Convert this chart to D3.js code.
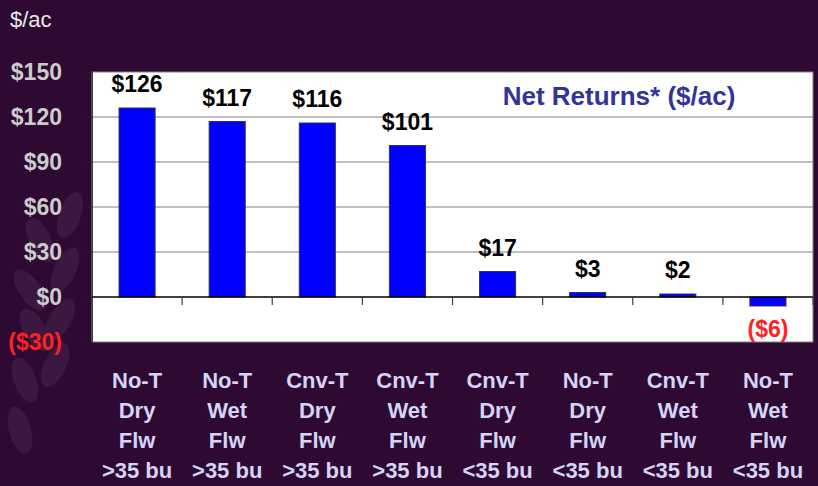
<!DOCTYPE html>
<html>
<head>
<meta charset="utf-8">
<script src="https://cdn.jsdelivr.net/npm/d3@7"></script>
<style>
  html, body { margin: 0; padding: 0; background: #2e0a32; }
  svg { display: block; font-family: "Liberation Sans", Arial, sans-serif; }
</style>
</head>
<body>
<svg id="chart" width="818" height="486"></svg>
<script>
// chart data
const categories = ['No-T|Dry|Flw|>35 bu', 'No-T|Wet|Flw|>35 bu', 'Cnv-T|Dry|Flw|>35 bu', 'Cnv-T|Wet|Flw|>35 bu',
  'Cnv-T|Dry|Flw|<35 bu', 'No-T|Dry|Flw|<35 bu', 'Cnv-T|Wet|Flw|<35 bu', 'No-T|Wet|Flw|<35 bu'];
const values = [126, 117, 116, 101, 17, 3, 2, -6];
const yTicks = [-30, 0, 30, 60, 90, 120, 150];
const title = 'Net Returns* ($/ac)';

const fmt = v => v < 0 ? '($' + Math.abs(v) + ')' : '$' + v;

const svg = d3.select('#chart');
const margin = {top: 72, right: 5, bottom: 144, left: 92};
const width = 818, height = 486;
const w = width - margin.left - margin.right;
const h = height - margin.top - margin.bottom;

// faint wheat-like decoration on the left
const deco = svg.append('g').attr('opacity', 0.07).attr('fill', '#e0c8e8');
[[40,240,-25],[70,215,20],[30,290,-35],[65,270,25],[35,330,-30],[60,320,30],[25,380,-20],[55,365,25],[20,430,-15]].forEach(p => {
  deco.append('ellipse').attr('cx', p[0]).attr('cy', p[1]).attr('rx', 11).attr('ry', 24)
    .attr('transform', `rotate(${p[2]},${p[0]},${p[1]})`);
});

const g = svg.append('g').attr('transform', `translate(${margin.left},${margin.top})`);

const x = d3.scaleBand().domain(categories).range([0, w]).paddingInner(0.6).paddingOuter(0.3);
const y = d3.scaleLinear().domain([-30, 150]).range([h, 0]);

// plot background
g.append('rect').attr('x', 0).attr('y', 0).attr('width', w).attr('height', h)
  .attr('fill', '#ffffff').attr('stroke', '#808080').attr('stroke-width', 1);

// gridlines
g.selectAll('line.grid').data(yTicks.filter(t => t > 0 && t < 150)).join('line')
  .attr('class', 'grid')
  .attr('x1', 0).attr('x2', w)
  .attr('y1', d => y(d)).attr('y2', d => y(d))
  .attr('stroke', '#808080').attr('stroke-width', 1.2);

// left axis
const yAxis = g.append('g')
  .call(d3.axisLeft(y).tickValues(yTicks).tickSize(8).tickFormat(fmt));
yAxis.select('.domain').attr('stroke', '#404040');
yAxis.selectAll('.tick line').attr('stroke', '#202020');
yAxis.selectAll('.tick text')
  .attr('x', -30)
  .attr('font-size', 23).attr('font-weight', 'bold')
  .attr('font-family', '"Liberation Sans", Arial, sans-serif')
  .attr('fill', d => d < 0 ? '#ff2020' : '#cccccc');

// bars
g.selectAll('rect.bar').data(values).join('rect')
  .attr('class', 'bar')
  .attr('x', (d, i) => x(categories[i]))
  .attr('width', x.bandwidth())
  .attr('y', d => y(Math.max(0, d)))
  .attr('height', d => Math.abs(y(d) - y(0)))
  .attr('fill', '#0000ff').attr('stroke', '#303050').attr('stroke-width', 1);

// zero line with category ticks
g.append('line').attr('x1', 0).attr('x2', w).attr('y1', y(0)).attr('y2', y(0))
  .attr('stroke', '#000').attr('stroke-width', 1.3);
g.selectAll('line.xtick').data(d3.range(categories.length + 1)).join('line')
  .attr('class', 'xtick')
  .attr('x1', i => i * w / categories.length).attr('x2', i => i * w / categories.length)
  .attr('y1', y(0)).attr('y2', y(0) + 8)
  .attr('stroke', '#404040').attr('stroke-width', 1.2);

// value labels
g.selectAll('text.val').data(values).join('text')
  .attr('class', 'val')
  .attr('x', (d, i) => x(categories[i]) + x.bandwidth() / 2)
  .attr('y', d => d < 0 ? y(d) + 31 : y(d) - 16)
  .attr('text-anchor', 'middle')
  .attr('font-size', 23).attr('font-weight', 'bold')
  .attr('fill', d => d < 0 ? '#ff2020' : '#000')
  .text(fmt);

// title inside the plot
g.append('text')
  .attr('x', 527).attr('y', 33)
  .attr('text-anchor', 'middle')
  .attr('font-size', 26).attr('font-weight', 'bold')
  .attr('fill', '#333399')
  .text(title);

// y unit
svg.append('text').attr('x', 10).attr('y', 27)
  .attr('font-size', 22).attr('fill', '#e8e8e8').text('$/ac');

// category labels
const xl = g.append('g').attr('transform', `translate(0,${h})`);
categories.forEach(c => {
  const t = xl.append('text')
    .attr('x', x(c) + x.bandwidth() / 2)
    .attr('text-anchor', 'middle')
    .attr('font-size', 22).attr('font-weight', 'bold')
    .attr('fill', '#d4d4f8');
  c.split('|').forEach((line, j) => {
    t.append('tspan').attr('x', x(c) + x.bandwidth() / 2).attr('y', 46 + j * 30).text(line);
  });
});
</script>
</body>
</html>
